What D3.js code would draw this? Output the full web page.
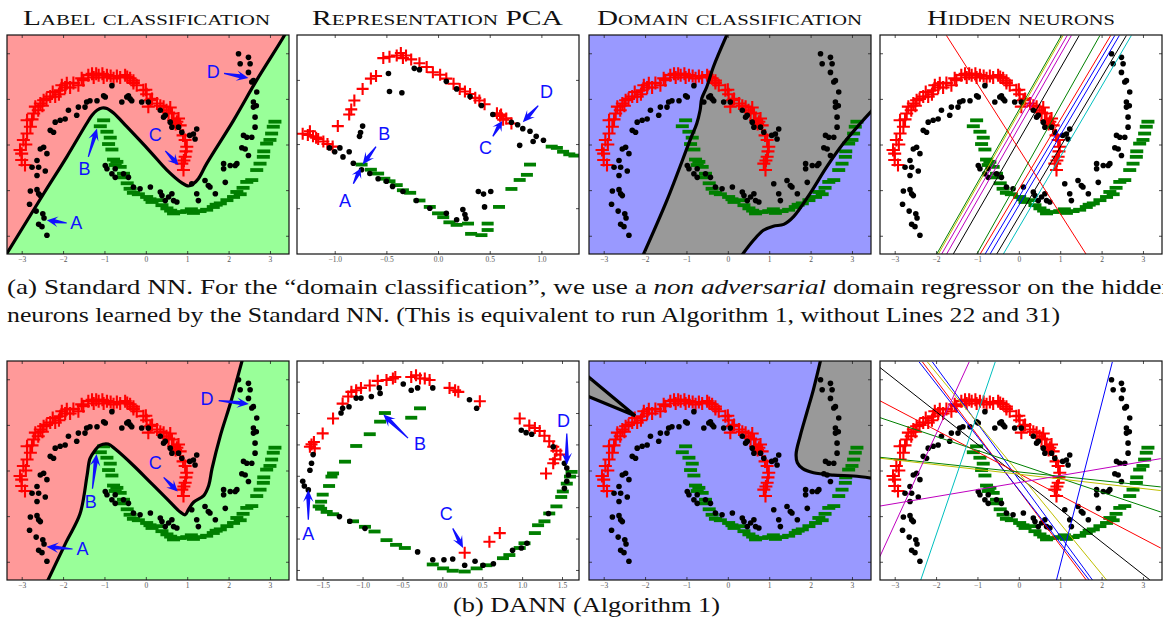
<!DOCTYPE html>
<html><head><meta charset="utf-8">
<script src="https://cdn.jsdelivr.net/npm/d3@7"></script>
<style>body{margin:0;background:#fff}svg{display:block}</style>
</head><body>
<svg id="c" width="1163" height="625"></svg>
<script>
// ---------------- DATA ----------------
const panelTitles = ["Label classification", "Representation PCA", "Domain classification", "Hidden neurons"];
const captionA1 = ["(a) Standard NN. For the “domain classification”, we use a ", "non adversarial", " domain regressor on the hidden"];
const captionA2 = "neurons learned by the Standard NN. (This is equivalent to run Algorithm 1, without Lines 22 and 31)";
const captionB = "(b) DANN (Algorithm 1)";

const inTicksX = [-3, -2, -1, 0, 1, 2, 3];
const inTicksY = [-2, -1, 0, 1, 2];
const pcaTopTicksX = [-1.0, -0.5, 0.0, 0.5, 1.0];
const pcaTopTicksY = [-0.5, 0, 0.5];
const pcaBotTicksX = [-1.5, -1.0, -0.5, 0.0, 0.5, 1.0, 1.5];
const pcaBotTicksY = [-1.2, -0.8, -0.4, 0, 0.4, 0.8, 1.2];

// source, label +1 (red crosses)
const sourcePos = [[-3.04,-0.12],[-3.0,-0.34],[-2.92,-0.45],[-2.96,0.10],[-2.87,0.24],[-2.79,0.39],[-2.87,0.53],[-2.71,0.68],[-2.67,0.83],[-2.55,0.90],[-2.47,0.97],[-2.31,1.05],[-2.19,1.05],[-2.07,1.19],[-2.03,1.30],[-1.91,1.34],[-1.83,1.25],[-1.63,1.30],[-1.51,1.41],[-1.39,1.52],[-1.26,1.47],[-1.14,1.52],[-1.02,1.47],[-0.94,1.52],[-0.78,1.45],[-0.62,1.47],[-0.50,1.52],[-0.38,1.45],[-0.30,1.40],[-0.22,1.30],[-0.06,1.19],[0.02,1.10],[0.11,0.97],[0.06,0.83],[0.27,0.90],[0.43,0.83],[0.59,0.81],[0.63,0.68],[0.67,0.53],[0.79,0.57],[0.83,0.42],[0.95,0.10],[0.99,-0.05],[0.95,-0.27],[0.87,-0.42],[0.91,-0.56],[-2.60,0.75],[-2.40,1.00],[-2.10,1.10],[-1.75,1.35],[-1.20,1.55],[-0.85,1.50],[-0.45,1.48],[0.15,1.00],[0.50,0.75],[0.72,0.45],[0.97,-0.15],[-2.90,0.00],[-3.00,-0.20],[-2.75,0.55],[-2.50,0.85],[-2.25,1.15],[-1.95,1.25],[-1.55,1.45],[-1.30,1.55],[-1.05,1.55],[-0.70,1.50],[-0.30,1.35],[0.00,1.20],[0.35,0.85],[0.55,0.70],[0.75,0.50],[0.90,0.20],[0.92,-0.35]];
// source, label 0 (green minus)
const sourceNeg = [[-1.02,0.53],[-1.10,0.40],[-0.94,0.28],[-0.86,0.15],[-0.90,0.01],[-0.82,-0.11],[-0.78,-0.33],[-0.74,-0.45],[-0.62,-0.49],[-0.54,-0.64],[-0.58,-0.72],[-0.38,-0.97],[-0.30,-1.06],[-0.18,-1.09],[0.02,-1.15],[0.15,-1.26],[0.27,-1.22],[0.39,-1.33],[0.51,-1.40],[0.67,-1.51],[0.83,-1.48],[0.99,-1.46],[1.15,-1.50],[1.31,-1.46],[1.47,-1.43],[1.63,-1.37],[1.80,-1.29],[1.96,-1.22],[2.12,-1.15],[2.20,-1.04],[2.28,-1.09],[2.44,-0.82],[2.56,-0.78],[2.68,-0.56],[2.76,-0.42],[2.84,-0.27],[2.92,0.02],[3.00,0.10],[3.04,0.24],[3.08,0.39],[3.12,0.50],[-0.70,-0.38],[-0.45,-0.85],[0.10,-1.20],[0.60,-1.45],[1.10,-1.42],[1.70,-1.32],[2.35,-0.95],[2.85,-0.15]];
// target (black dots)
const target = [[-2.55,-0.10],[-2.47,-0.06],[-2.39,-0.20],[-2.63,-0.35],[-2.59,-0.50],[-2.75,-0.50],[-2.63,-0.68],[-2.43,-0.58],[-2.79,-1.02],[-2.63,-0.99],[-2.59,-1.08],[-2.55,-1.12],[-2.81,-1.31],[-2.65,-1.46],[-2.49,-1.52],[-2.46,-1.61],[-2.59,-1.75],[-2.51,-1.80],[-2.39,-1.99],
[-2.31,0.31],[-2.23,0.27],[-2.19,0.49],[-2.07,0.53],[-1.95,0.56],[-1.87,0.75],[-1.67,0.64],[-1.63,0.82],[-1.47,0.82],[-1.43,0.93],[-1.35,0.96],[-1.18,0.96],[-1.02,1.07],[-0.98,1.04],[-0.82,1.29],[-0.58,0.93],[-0.46,1.04],[-0.38,1.00],[-0.34,0.96],[-0.42,1.07],[-0.10,0.93],[0.06,0.93],[0.35,0.75],[0.43,0.60],[0.47,0.64],[0.59,0.49],[0.63,0.38],[0.79,0.38],[0.87,0.27],[1.06,0.20],[1.15,0.23],[1.23,0.34],[1.19,0.12],
[-0.98,-0.46],[-0.94,-0.53],[-0.74,-0.53],[-0.82,-0.64],[-0.74,-0.72],[-0.54,-0.64],[-0.42,-0.72],[-0.30,-0.93],[-0.14,-0.97],[0.11,-0.93],[0.35,-1.04],[0.39,-1.12],[0.47,-1.23],[0.55,-1.15],[0.63,-1.08],[0.67,-1.23],[0.75,-1.26],[1.11,-0.86],[1.23,-1.08],[1.27,-1.23],[1.43,-0.79],[1.51,-0.90],[1.55,-0.93],[1.68,-1.08],[1.88,-0.42],[1.88,-0.53],[1.92,-0.83],[2.04,-0.46],[2.16,-0.46],[2.20,-0.42],[2.32,-0.07],[2.40,-0.10],[2.48,-0.24],[2.36,0.20],[2.44,0.16],[2.56,0.16],[2.64,0.38],[2.64,0.60],[2.60,0.82],[2.67,0.85],[2.60,0.93],[2.68,1.15],[2.56,1.37],[2.60,1.40],[2.48,1.58],[2.52,1.77],[2.24,1.99],[2.28,1.77],[2.48,1.91]];

// decision boundaries (input space)
const labelBoundaryNN = [[-3.40,-2.45],[-2.47,-1.08],[-1.91,-0.27],[-1.43,0.46],[-1.30,0.64],[-1.18,0.75],[-1.06,0.80],[-0.94,0.79],[-0.78,0.69],[-0.46,0.39],[0.11,-0.16],[0.51,-0.56],[0.87,-0.84],[1.03,-0.91],[1.15,-0.86],[1.27,-0.75],[1.47,-0.42],[2.12,0.53],[2.68,1.41],[3.33,2.36],[3.38,2.45]];
const labelBoundaryDANN = [[-2.39,-2.45],[-1.92,-1.56],[-1.59,-0.95],[-1.42,-0.11],[-1.35,0.26],[-1.23,0.44],[-1.11,0.55],[-0.91,0.58],[-0.74,0.47],[-0.30,0.11],[0.11,-0.26],[0.51,-0.62],[0.83,-0.91],[0.95,-0.97],[1.04,-0.84],[1.16,-0.69],[1.40,-0.55],[1.52,-0.33],[1.60,0.04],[1.80,0.76],[2.05,1.49],[2.25,2.15],[2.34,2.45]];
const domainNNLeft = [[-2.06,-2.45],[-1.47,-1.22],[-0.91,0.10],[-0.75,0.46],[-0.67,0.75],[-0.63,1.01],[-0.51,1.26],[-0.35,1.70],[0.00,2.45]];
const domainNNRight = [[0.32,-2.45],[0.62,-2.10],[0.86,-1.88],[1.10,-1.79],[1.35,-1.75],[1.59,-1.58],[1.99,-1.07],[2.39,-0.49],[2.79,0.02],[3.20,0.46],[3.50,0.76]];
const domainDANNWedge = [[-3.50,2.15],[-2.24,1.20],[-3.50,1.67]];
const domainDANNRight = [[2.25,2.45],[2.07,1.78],[1.91,1.27],[1.75,0.76],[1.65,0.36],[1.68,0.17],[1.81,0.04],[2.07,-0.05],[2.55,-0.10],[3.04,-0.12],[3.50,-0.17]];

// hidden neurons: [x1,y1,x2,y2]
const neuronsNN = [[-1.99,-2.41,1.03,2.39],[-1.95,-2.41,1.07,2.39],[-1.87,-2.41,1.17,2.39],[-1.75,-2.41,1.27,2.39],[-1.59,-2.41,1.46,2.39],[-1.02,-2.41,1.96,2.39],[-0.94,-2.41,2.22,2.39],[-0.82,-2.41,2.32,2.39],[-0.70,-2.41,2.43,2.39],[-0.54,-2.41,2.60,2.39],[-0.38,-2.41,2.72,2.39],[1.63,-2.41,-1.75,2.39]];
const neuronsNNColor = ["g","y","m","m","k","g","r","b","b","k","c","r"];
const neuronsDANN = [[-3.36,2.26,3.17,-2.40],[-2.33,2.38,1.63,-2.40],[-2.41,2.38,1.70,-2.40],[-2.09,2.38,1.78,-2.40],[-2.21,2.38,2.12,-2.40],[-3.36,1.53,3.43,-1.70],[-3.36,1.16,3.43,-0.91],[-3.36,0.29,3.43,-0.36],[-3.36,0.27,3.43,-0.44],[-3.36,-0.78,3.43,0.26],[-3.36,-1.89,-1.20,2.38],[-2.37,-2.40,-0.57,2.38],[0.91,-2.40,2.26,2.38]];
const neuronsDANNColor = ["k","r","b","b","y","r","g","g","y","m","m","c","b"];

// PCA representations
const pcaNNPos = [[-1.31,0.08],[-1.26,0.07],[-1.21,0.06],[-1.16,0.04],[-1.11,0.02],[-1.07,0.0],[-1.02,-0.02],[-1.24,0.10],[-1.18,0.05],[-0.97,0.14],[-0.86,0.23],[-0.84,0.27],[-0.81,0.34],[-0.73,0.43],[-0.65,0.51],[-0.60,0.53],[-0.53,0.67],[-0.47,0.68],[-0.40,0.69],[-0.36,0.71],[-0.31,0.69],[-0.26,0.66],[-0.34,0.67],[-0.18,0.63],[-0.11,0.60],[-0.05,0.56],[0.02,0.54],[0.08,0.51],[0.15,0.47],[0.21,0.43],[0.26,0.41],[0.31,0.39],[0.36,0.36],[0.40,0.34],[0.45,0.31],[0.57,0.24],[0.61,0.23],[0.66,0.20],[0.71,0.16],[0.60,0.22],[0.63,0.19]];
const pcaNNNeg = [[-0.74,-0.16],[-0.65,-0.20],[-0.58,-0.23],[-0.52,-0.27],[-0.47,-0.29],[-0.40,-0.32],[-0.34,-0.36],[-0.27,-0.38],[-0.18,-0.44],[-0.08,-0.49],[0.0,-0.54],[0.05,-0.57],[0.11,-0.61],[0.18,-0.63],[0.29,-0.62],[0.32,-0.70],[0.42,-0.71],[0.48,-0.62],[0.48,-0.67],[0.59,-0.49],[0.71,-0.35],[0.79,-0.28],[0.86,-0.24],[0.89,-0.16],[1.10,-0.02],[1.15,-0.03],[1.21,-0.06],[1.27,-0.08],[1.32,-0.09]];
const pcaNNTarget = [[-1.05,-0.03],[-1.0,-0.06],[-0.95,-0.03],[-0.92,-0.10],[-0.86,-0.06],[-0.82,-0.15],[-0.74,-0.20],[-0.66,-0.23],[-0.58,-0.27],[-0.50,-0.29],[-0.44,-0.33],[-0.34,-0.37],[-0.21,-0.44],[-0.08,-0.50],[0.08,-0.54],[0.18,-0.59],[0.24,-0.51],[0.26,-0.55],[0.27,-0.58],[0.39,-0.37],[0.44,-0.39],[0.51,-0.37],[0.45,-0.49],[-0.76,0.06],[-0.75,0.09],[-0.73,0.14],[-0.48,0.55],[-0.47,0.41],[-0.35,0.40],[-0.23,0.59],[-0.18,0.58],[0.08,0.49],[0.18,0.43],[0.31,0.37],[0.42,0.30],[0.53,0.23],[0.82,0.12],[0.89,0.10],[0.95,0.06],[1.02,0.03],[0.79,-0.01],[0.92,0.02],[0.71,0.17],[0.77,0.15]];
const pcaDANNPos = [[-1.66,0.37],[-1.64,0.40],[-1.61,0.43],[-1.60,0.35],[-1.50,0.54],[-1.37,0.73],[-1.25,0.92],[-1.18,1.01],[-1.14,1.07],[-1.08,1.09],[-1.02,1.12],[-0.91,1.15],[-0.81,1.21],[-0.70,1.22],[-0.62,1.24],[-0.59,1.26],[-0.39,1.26],[-0.33,1.28],[-0.28,1.24],[-0.22,1.24],[-0.16,1.22],[0.09,1.12],[0.16,1.09],[0.20,1.07],[0.47,0.95],[0.97,0.73],[1.09,0.64],[1.16,0.61],[1.22,0.57],[1.28,0.51],[1.34,0.44],[1.39,0.37],[1.43,0.32],[1.48,0.27],[1.41,0.21],[1.39,0.16],[1.30,0.03],[0.28,-0.98],[0.59,-0.84],[0.72,-0.73]];
const pcaDANNNeg = [[-0.72,0.80],[-0.78,0.69],[-0.39,0.74],[-0.28,0.86],[-0.91,0.53],[-1.08,0.38],[-1.22,0.18],[-1.37,0.03],[-1.39,-0.01],[-1.42,-0.13],[-1.50,-0.24],[-1.52,-0.33],[-1.55,-0.39],[-1.52,-0.42],[-1.45,-0.46],[-1.37,-0.49],[-1.12,-0.58],[-0.97,-0.65],[-0.85,-0.71],[-0.70,-0.82],[-0.58,-0.88],[-0.47,-0.92],[-0.12,-1.13],[0.01,-1.18],[0.13,-1.21],[0.28,-1.22],[0.43,-1.18],[0.55,-1.14],[0.76,-1.05],[0.84,-1.01],[0.97,-0.92],[1.03,-0.86],[1.16,-0.73],[1.20,-0.63],[1.28,-0.58],[1.34,-0.48],[1.43,-0.39],[1.49,-0.27],[1.51,-0.20],[1.56,-0.10],[1.60,-0.01],[1.62,0.05]];
const pcaDANNTarget = [[-1.75,-0.07],[-1.73,-0.13],[-1.68,-0.18],[-1.66,0.07],[-1.64,0.16],[-1.62,0.27],[-1.27,0.80],[-1.25,0.86],[-1.17,0.88],[-1.08,0.99],[-1.02,0.99],[-0.89,1.01],[-0.78,1.05],[-0.79,1.12],[-0.49,1.17],[-0.39,1.09],[-0.31,1.12],[-0.12,1.12],[0.34,0.97],[0.43,0.86],[0.99,0.58],[1.05,0.55],[1.12,0.53],[1.39,0.37],[1.53,0.16],[1.56,0.10],[1.58,0.01],[1.56,-0.07],[1.53,-0.16],[1.33,-0.48],[1.06,-0.86],[0.99,-0.92],[0.88,-0.95],[0.64,-1.12],[0.51,-1.14],[0.41,-1.09],[0.28,-1.14],[0.13,-1.06],[0.02,-1.07],[-0.12,-1.07],[-0.31,-0.97],[-0.97,-0.67],[-1.16,-0.58],[-1.29,-0.52]];

// annotations: [letter, textX, textY, tailX, tailY, tipX, tipY]
const annLabelNN = [["A",-1.68,-1.70,-1.91,-1.72,-2.39,-1.66],["B",-1.48,-0.53,-1.39,-0.27,-1.18,0.35],["C",0.23,0.21,0.47,-0.14,0.79,-0.45],["D",1.63,1.61,1.89,1.56,2.48,1.46]];
const annLabelDANN = [["A",-1.53,-1.71,-1.77,-1.72,-2.40,-1.67],["B",-1.33,-0.69,-1.29,-0.40,-1.19,0.36],["C",0.23,0.17,0.43,-0.15,0.77,-0.46],["D",1.48,1.58,1.76,1.53,2.49,1.46]];
const annPcaNN = [["A",-0.90,-0.44,-0.82,-0.31,-0.75,-0.19],["B",-0.52,0.08,-0.60,-0.02,-0.73,-0.16],["C",0.46,-0.03,0.53,0.06,0.62,0.18],["D",1.05,0.41,0.97,0.30,0.82,0.17]];
const annPcaDANN = [["A",-1.68,-0.73,-1.68,-0.56,-1.68,-0.18],["B",-0.28,0.41,-0.43,0.48,-0.74,0.78],["C",0.05,-0.48,0.13,-0.67,0.26,-0.92],["D",1.52,0.71,1.56,0.54,1.56,0.14]];

// ---------------- LAYOUT / STYLE ----------------
const W = 282, H = 219;
const colLeft = [7, 297, 589, 880];
const rowTop = [35, 361];
const inDomX = [-3.355, 3.46], inDomY = [-2.4, 2.4];
const pcaTopDomX = [-1.365, 1.364], pcaTopDomY = [-0.857, 0.85];
const pcaBotDomX = [-1.822, 1.713], pcaBotDomY = [-1.328, 1.463];
const colorMap = {b:"#0000ff", g:"#008000", r:"#ff0000", c:"#00bfbf", m:"#bf00bf", y:"#bfbf00", k:"#000000"};
const C = {red:"#ff9999", green:"#99ff99", blue:"#9999ff", gray:"#999999", plus:"#ff0000", minus:"#007f00", ann:"#1010ff"};
const serif = "'Liberation Serif','Times New Roman',serif";

const svg = d3.select("#c");

function makePanel(row, col, xd, yd, xt, yt, fmt) {
  const g = svg.append("g").attr("transform", `translate(${colLeft[col]},${rowTop[row]})`);
  const x = d3.scaleLinear().domain(xd).range([0, W]);
  const y = d3.scaleLinear().domain(yd).range([H, 0]);
  const id = `clip${row}${col}`;
  g.append("clipPath").attr("id", id).append("rect").attr("width", W).attr("height", H);
  const body = g.append("g").attr("clip-path", `url(#${id})`);
  return {g, body, x, y, xt, yt, fmt};
}

function frame(p) {
  const styleAxis = sel => {
    sel.select(".domain").remove();
    sel.selectAll("line").attr("stroke", "#222").attr("stroke-width", 0.8);
    sel.selectAll("text").attr("font-family", serif).attr("font-size", 7.5).attr("fill", "#555");
  };
  p.g.append("g").attr("transform", `translate(0,${H})`)
    .call(d3.axisBottom(p.x).tickValues(p.xt).tickSizeInner(-3).tickSizeOuter(0).tickPadding(3).tickFormat(p.fmt)).call(styleAxis);
  p.g.append("g").call(d3.axisTop(p.x).tickValues(p.xt).tickSizeInner(-3).tickSizeOuter(0).tickFormat("")).call(styleAxis);
  p.g.append("g").call(d3.axisLeft(p.y).tickValues(p.yt).tickSizeInner(-3).tickSizeOuter(0).tickFormat("")).call(styleAxis);
  p.g.append("g").attr("transform", `translate(${W},0)`)
    .call(d3.axisRight(p.y).tickValues(p.yt).tickSizeInner(-3).tickSizeOuter(0).tickFormat("")).call(styleAxis);
  p.g.append("rect").attr("width", W).attr("height", H).attr("fill", "none").attr("stroke", "#111").attr("stroke-width", 1.2);
}

function points(p, pos, neg, tgt, sz) {
  p.body.append("g").selectAll("path").data(pos).join("path")
    .attr("d", d => `M${p.x(d[0]) - sz},${p.y(d[1])}H${p.x(d[0]) + sz}M${p.x(d[0])},${p.y(d[1]) - sz}V${p.y(d[1]) + sz}`)
    .attr("stroke", C.plus).attr("stroke-width", 2.1).attr("fill", "none");
  p.body.append("g").selectAll("rect").data(neg).join("rect")
    .attr("x", d => p.x(d[0]) - sz).attr("y", d => p.y(d[1]) - 1.9)
    .attr("width", 2 * sz).attr("height", 3.8).attr("fill", C.minus);
  p.body.append("g").selectAll("circle").data(tgt).join("circle")
    .attr("cx", d => p.x(d[0])).attr("cy", d => p.y(d[1])).attr("r", 2.8).attr("fill", "#000");
}

function curvePath(p, pts) {
  return d3.line().x(d => p.x(d[0])).y(d => p.y(d[1])).curve(d3.curveCatmullRom.alpha(0.5))(pts);
}

function boundaryLine(p, pts) {
  p.body.append("path").attr("d", curvePath(p, pts)).attr("fill", "none")
    .attr("stroke", "#000").attr("stroke-width", 3.2).attr("stroke-linejoin", "round");
}

function labelBackground(p, bnd) {
  p.body.append("rect").attr("width", W).attr("height", H).attr("fill", C.red);
  const d = curvePath(p, bnd) + `L${p.x(3.8)},${p.y(2.8)}L${p.x(3.8)},${p.y(-2.8)}L${p.x(bnd[0][0])},${p.y(-2.8)}Z`;
  p.body.append("path").attr("d", d).attr("fill", C.green);
}

function arrowPath(x1, y1, x2, y2) {
  const dx = x2 - x1, dy = y2 - y1, L = Math.hypot(dx, dy);
  const ux = dx / L, uy = dy / L, px = -uy, py = ux;
  const hl = Math.min(12, L * 0.55), hw = 5.2, nw = 2.0, tw = 0.6;
  const hb = [x2 - ux * hl, y2 - uy * hl];
  const nb = [x2 - ux * hl * 0.72, y2 - uy * hl * 0.72];
  const P = [
    [x1 + px * tw, y1 + py * tw],
    [nb[0] + px * nw, nb[1] + py * nw],
    [hb[0] + px * hw, hb[1] + py * hw],
    [x2, y2],
    [hb[0] - px * hw, hb[1] - py * hw],
    [nb[0] - px * nw, nb[1] - py * nw],
    [x1 - px * tw, y1 - py * tw]];
  return "M" + P.map(q => q.join(",")).join("L") + "Z";
}

function annotate(p, anns) {
  const g = p.g.append("g");
  anns.forEach(a => {
    g.append("path").attr("d", arrowPath(p.x(a[3]), p.y(a[4]), p.x(a[5]), p.y(a[6]))).attr("fill", C.ann);
    g.append("text").attr("x", p.x(a[1])).attr("y", p.y(a[2])).attr("dy", "0.36em")
      .attr("text-anchor", "middle").attr("font-family", "'Liberation Sans',Arial,sans-serif")
      .attr("font-size", 18).attr("fill", C.ann).text(a[0]);
  });
}

const fmtInt = d3.format("d");
const fmt1 = d3.format(".1f");

// ---------------- ROWS ----------------
const rows = [
  {labelB: labelBoundaryNN, annL: annLabelNN, pcaPos: pcaNNPos, pcaNeg: pcaNNNeg, pcaTgt: pcaNNTarget, annP: annPcaNN,
   pdx: pcaTopDomX, pdy: pcaTopDomY, ptx: pcaTopTicksX, pty: pcaTopTicksY, neurons: neuronsNN, ncol: neuronsNNColor},
  {labelB: labelBoundaryDANN, annL: annLabelDANN, pcaPos: pcaDANNPos, pcaNeg: pcaDANNNeg, pcaTgt: pcaDANNTarget, annP: annPcaDANN,
   pdx: pcaBotDomX, pdy: pcaBotDomY, ptx: pcaBotTicksX, pty: pcaBotTicksY, neurons: neuronsDANN, ncol: neuronsDANNColor}
];

rows.forEach((R, r) => {
  const p1 = makePanel(r, 0, inDomX, inDomY, inTicksX, inTicksY, fmtInt);
  labelBackground(p1, R.labelB);
  points(p1, sourcePos, sourceNeg, target, 6.5);
  boundaryLine(p1, R.labelB);
  frame(p1);
  annotate(p1, R.annL);

  const p2 = makePanel(r, 1, R.pdx, R.pdy, R.ptx, R.pty, fmt1);
  p2.body.append("rect").attr("width", W).attr("height", H).attr("fill", "#fff");
  points(p2, R.pcaPos, R.pcaNeg, R.pcaTgt, 6);
  frame(p2);
  annotate(p2, R.annP);

  const p3 = makePanel(r, 2, inDomX, inDomY, inTicksX, inTicksY, fmtInt);
  p3.body.append("rect").attr("width", W).attr("height", H).attr("fill", C.blue);
  if (r === 0) {
    const rev = curvePath(p3, domainNNRight.slice().reverse()).replace(/^M/, "L");
    p3.body.append("path").attr("d", curvePath(p3, domainNNLeft) + `L${p3.x(3.8)},${p3.y(2.8)}` + rev + "Z").attr("fill", C.gray);
    points(p3, sourcePos, sourceNeg, target, 6.5);
    boundaryLine(p3, domainNNLeft);
    boundaryLine(p3, domainNNRight);
  } else {
    const wedge = d3.line().x(d => p3.x(d[0])).y(d => p3.y(d[1]))(domainDANNWedge) + "Z";
    p3.body.append("path").attr("d", wedge).attr("fill", C.gray);
    p3.body.append("path").attr("d", curvePath(p3, domainDANNRight) + `L${p3.x(3.8)},${p3.y(2.8)}Z`).attr("fill", C.gray);
    points(p3, sourcePos, sourceNeg, target, 6.5);
    p3.body.append("path").attr("d", wedge).attr("fill", "none").attr("stroke", "#000").attr("stroke-width", 3.2).attr("stroke-linejoin", "miter");
    boundaryLine(p3, domainDANNRight);
  }
  frame(p3);

  const p4 = makePanel(r, 3, inDomX, inDomY, inTicksX, inTicksY, fmtInt);
  p4.body.append("rect").attr("width", W).attr("height", H).attr("fill", "#fff");
  points(p4, sourcePos, sourceNeg, target, 6.5);
  p4.body.append("g").selectAll("line").data(R.neurons).join("line")
    .attr("x1", d => p4.x(d[0])).attr("y1", d => p4.y(d[1]))
    .attr("x2", d => p4.x(d[2])).attr("y2", d => p4.y(d[3]))
    .attr("stroke", (d, i) => colorMap[R.ncol[i]]).attr("stroke-width", 1);
  frame(p4);
});

const titleX = [[23, 247], [312, 251], [597, 265], [927, 188]];
panelTitles.forEach((t, i) => {
  svg.append("text").attr("x", titleX[i][0]).attr("y", 25)
    .attr("font-family", serif).attr("font-size", 21).attr("fill", "#111")
    .style("font-variant", "small-caps")
    .attr("textLength", titleX[i][1]).attr("lengthAdjust", "spacingAndGlyphs").text(t);
});

const capA = svg.append("text").attr("x", 7).attr("y", 294).attr("font-family", serif).attr("font-size", 22).attr("fill", "#111")
  .attr("textLength", 1168).attr("lengthAdjust", "spacingAndGlyphs");
capA.append("tspan").text(captionA1[0]);
capA.append("tspan").attr("font-style", "italic").text(captionA1[1]);
capA.append("tspan").text(captionA1[2]);
svg.append("text").attr("x", 7).attr("y", 322).attr("font-family", serif).attr("font-size", 22).attr("fill", "#111")
  .attr("textLength", 1053).attr("lengthAdjust", "spacingAndGlyphs").text(captionA2);
svg.append("text").attr("x", 453).attr("y", 612).attr("font-family", serif).attr("font-size", 22).attr("fill", "#111")
  .attr("textLength", 267).attr("lengthAdjust", "spacingAndGlyphs").text(captionB);
</script>
</body></html>
